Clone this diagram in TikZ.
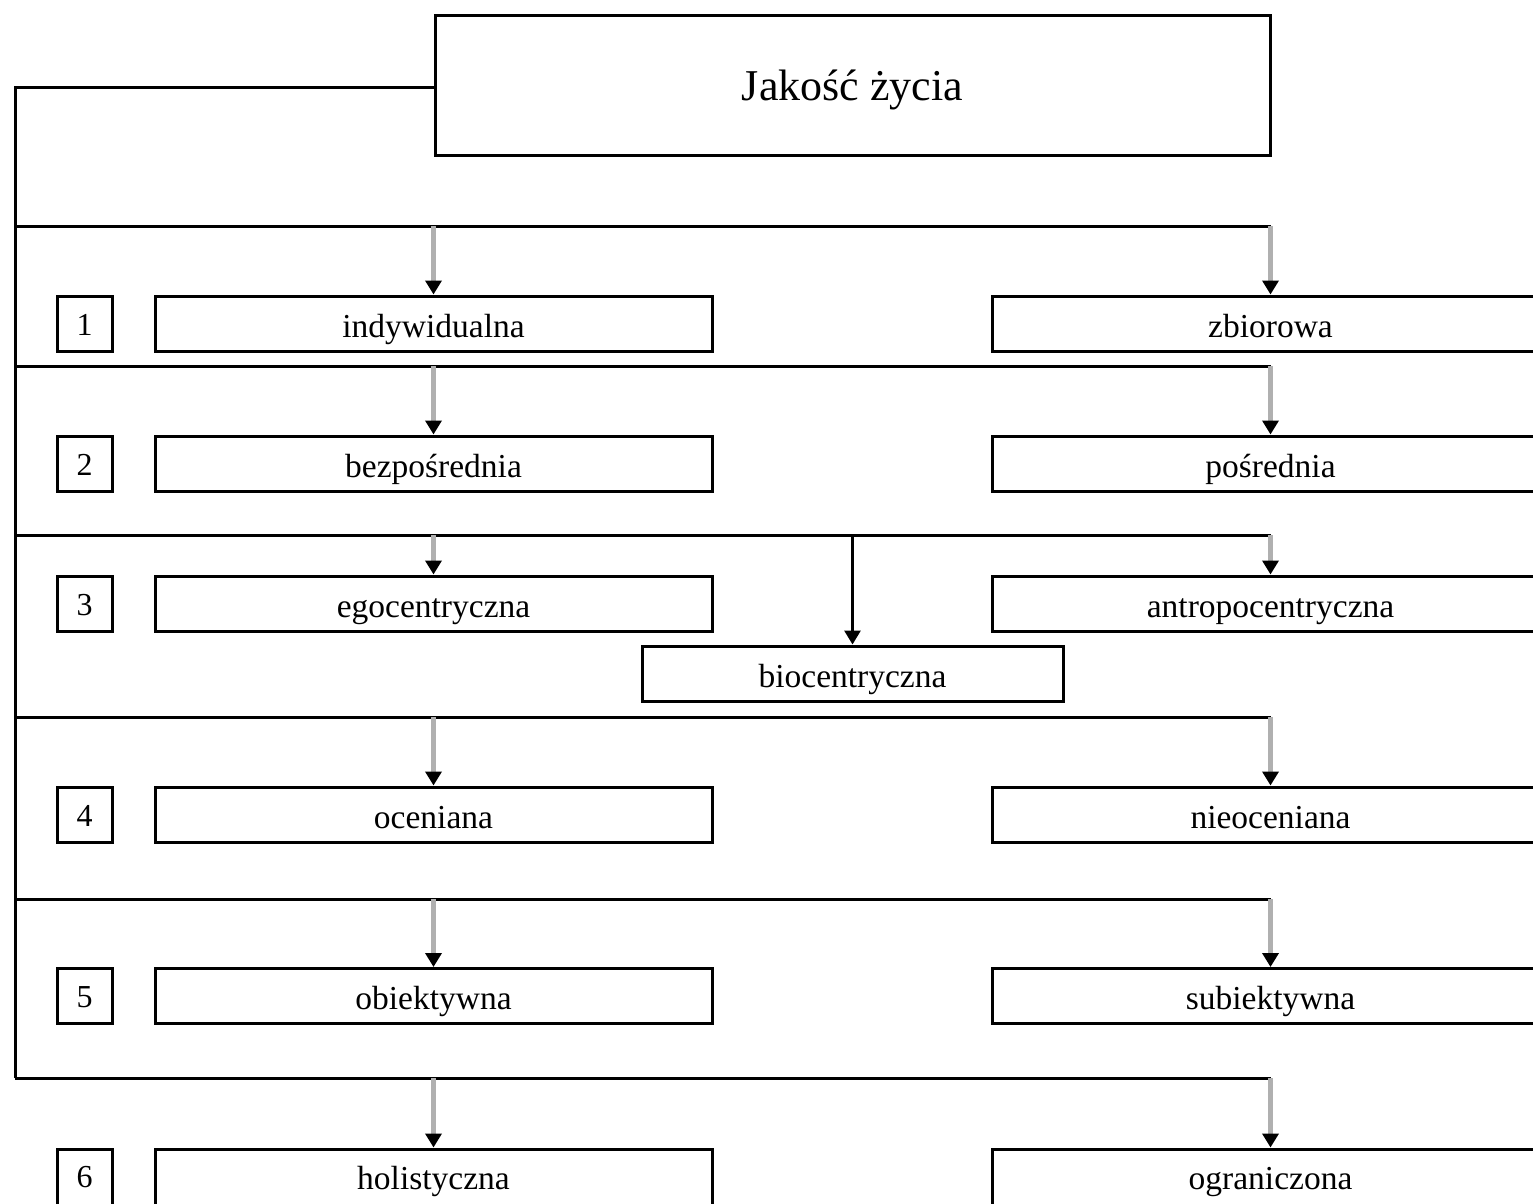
\documentclass[tikz,border=0pt]{standalone}
\usepackage{fontspec}
\setmainfont{Liberation Serif}
\usetikzlibrary{arrows.meta}
\definecolor{arrgray}{RGB}{176,176,176}
\begin{document}
\begin{tikzpicture}[x=1pt,y=-1pt,
  blk/.style={line width=3pt, draw=black},
  catbox/.style={draw=black, line width=3pt, minimum width=557pt, minimum height=55pt, inner sep=0pt,
     text height=30pt, text depth=3pt, font=\fontsize{33.5}{38}\selectfont},
  numbox/.style={draw=black, line width=3pt, minimum width=55pt, minimum height=55pt, inner sep=0pt,
     text height=26pt, text depth=3pt, font=\fontsize{32}{36}\selectfont},
  lastrow/.style={minimum height=62pt, text height=21pt, text depth=3pt},
  garr/.style={line width=5pt, draw=arrgray, -{Triangle[width=16pt,length=14pt,color=black]}},
  barr/.style={line width=3pt, draw=black, -{Triangle[width=16pt,length=14pt,color=black]}}
]
\useasboundingbox (0,0) rectangle (1533,1203);
\clip (0,0) rectangle (1533,1203);

% top node
\node[draw=black, line width=3pt, minimum width=835pt, minimum height=140pt, inner sep=0pt,
      text height=36pt, text depth=6pt, font=\fontsize{44}{50}\selectfont] (top) at (852.5,85) {Jakość życia};

% rows
\node[numbox] (n1) at (84.5,323.5) {1};
\node[catbox] (l1) at (433.5,323.5) {indywidualna};
\node[catbox] (r1) at (1270.5,323.5) {zbiorowa};

\node[numbox] (n2) at (84.5,463.5) {2};
\node[catbox] (l2) at (433.5,463.5) {bezpośrednia};
\node[catbox] (r2) at (1270.5,463.5) {pośrednia};

\node[numbox] (n3) at (84.5,603.5) {3};
\node[catbox] (l3) at (433.5,603.5) {egocentryczna};
\node[catbox] (r3) at (1270.5,603.5) {antropocentryczna};
\node[catbox, minimum width=421pt] (b3) at (852.5,673.5) {biocentryczna};

\node[numbox] (n4) at (84.5,814.5) {4};
\node[catbox] (l4) at (433.5,814.5) {oceniana};
\node[catbox] (r4) at (1270.5,814.5) {nieoceniana};

\node[numbox] (n5) at (84.5,996) {5};
\node[catbox] (l5) at (433.5,996) {obiektywna};
\node[catbox] (r5) at (1270.5,996) {subiektywna};

\node[numbox, lastrow, text height=18pt] (n6) at (84.5,1180) {6};
\node[catbox, lastrow] (l6) at (433.5,1180) {holistyczna};
\node[catbox, lastrow] (r6) at (1270.5,1180) {ograniczona};

% spine
\coordinate (s0) at (15,87);
\coordinate (s1) at (15,226);
\coordinate (s2) at (15,366);
\coordinate (s3) at (15,535);
\coordinate (s4) at (15,717);
\coordinate (s5) at (15,899);
\coordinate (s6) at (15,1078);

\draw[blk] (top.west |- s0) -- (s0) -- (s6);

% horizontal bars and arrows
\foreach \i in {1,...,6} {
  \draw[blk] (s\i) -- (r\i.north |- s\i);
  \draw[garr] (l\i.north |- s\i) -- (l\i.north);
  \draw[garr] (r\i.north |- s\i) -- (r\i.north);
}
\draw[barr] (b3.north |- s3) -- (b3.north);
\end{tikzpicture}
\end{document}
